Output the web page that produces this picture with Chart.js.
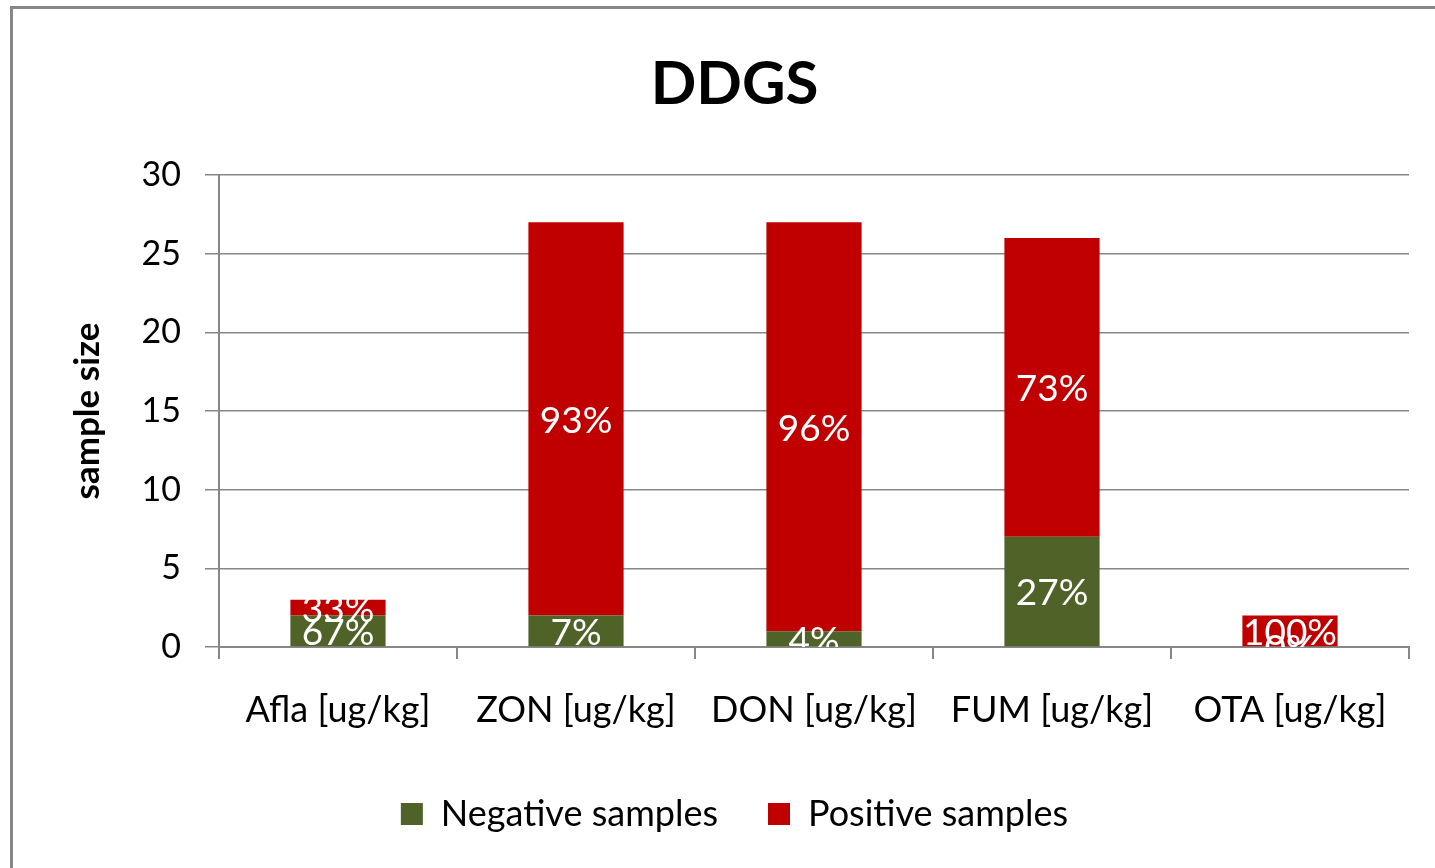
<!DOCTYPE html>
<html>
<head>
<meta charset="utf-8">
<title>DDGS</title>
<script src="https://cdn.jsdelivr.net/npm/chart.js@4"></script>
<style>
  body { margin: 0; overflow: hidden; background: #fff; }
  #wrap { position: relative; width: 1435px; height: 868px; overflow: hidden; }
  #frame { position: absolute; left: 10px; top: 6px; width: 3000px; height: 3000px;
    border-left: 3px solid #878787; border-top: 3px solid #878787; pointer-events: none; }
  canvas { position: absolute; left: 0; top: 0; }
</style>
</head>
<body>
<div id="wrap">
  <canvas id="chart" width="1435" height="868"></canvas>
  <div id="frame"></div>
</div>
<script>
var categories = ['Afla [ug/kg]', 'ZON [ug/kg]', 'DON [ug/kg]', 'FUM [ug/kg]', 'OTA [ug/kg]'];
var negative = [2, 2, 1, 7, 0];
var positive = [1, 25, 26, 19, 2];
var yTicks = [0, 5, 10, 15, 20, 25, 30];

var hijau = '#4f6228';
var merah = '#c00000';
var abu = '#878787';
var font = 'Lato';

// percentage labels in the middle of each bar segment
var barLabels = {
  id: 'barLabels',
  afterDatasetsDraw: function (chart) {
    var ctx = chart.ctx;
    var area = chart.chartArea;
    ctx.save();
    ctx.beginPath();
    ctx.rect(area.left, area.top, area.right - area.left, area.bottom - area.top);
    ctx.clip();
    ctx.fillStyle = '#ffffff';
    ctx.font = '37px ' + font;
    ctx.textAlign = 'center';
    ctx.textBaseline = 'middle';
    chart.data.datasets.forEach(function (ds, di) {
      var meta = chart.getDatasetMeta(di);
      meta.data.forEach(function (bar, i) {
        var total = negative[i] + positive[i];
        var pct = Math.round(ds.data[i] / total * 100) + '%';
        ctx.fillText(pct, bar.x, (bar.y + bar.base) / 2 + 2);
      });
    });
    ctx.restore();
  }
};

var ctx = document.getElementById('chart').getContext('2d');
var myChart = new Chart(ctx, {
  type: 'bar',
  data: {
    labels: categories,
    datasets: [{
      label: 'Negative samples',
      data: negative,
      backgroundColor: hijau,
      categoryPercentage: 0.4,
      barPercentage: 1
    }, {
      label: 'Positive samples',
      data: positive,
      backgroundColor: merah,
      categoryPercentage: 0.4,
      barPercentage: 1
    }]
  },
  plugins: [barLabels],
  options: {
    responsive: false,
    animation: false,
    layout: { padding: { left: 60, right: 26, top: 0, bottom: 26 } },
    plugins: {
      title: {
        display: true,
        text: 'DDGS',
        color: '#000',
        font: { family: font, size: 60, weight: 'bold' },
        padding: { top: 49, bottom: 54 }
      },
      legend: {
        position: 'bottom',
        labels: {
          color: '#000',
          font: { family: font, size: 36 },
          boxWidth: 22,
          boxHeight: 22,
          padding: 50
        }
      },
      tooltip: { enabled: false }
    },
    scales: {
      x: {
        stacked: true,
        grid: { drawOnChartArea: false, tickLength: 12, color: abu, lineWidth: 2, offset: true },
        border: { display: true, color: abu, width: 2 },
        ticks: { color: '#000', font: { family: font, size: 36 }, padding: 30, maxRotation: 0 },
        afterFit: function (scale) { scale.height = 99; }
      },
      y: {
        stacked: true,
        min: 0,
        max: 30,
        afterBuildTicks: function (scale) {
          scale.ticks = yTicks.map(function (v) { return { value: v }; });
        },
        grid: { tickLength: 14, color: abu, lineWidth: 1.5 },
        border: { display: true, color: abu, width: 2 },
        ticks: { color: '#000', font: { family: font, size: 34 }, padding: 24 },
        title: {
          display: true,
          text: 'sample size',
          color: '#000',
          font: { family: font, size: 35, weight: 'bold' },
          padding: { top: 7, bottom: 0 }
        },
        afterFit: function (scale) { scale.width = 159; }
      }
    }
  }
});
</script>
</body>
</html>
